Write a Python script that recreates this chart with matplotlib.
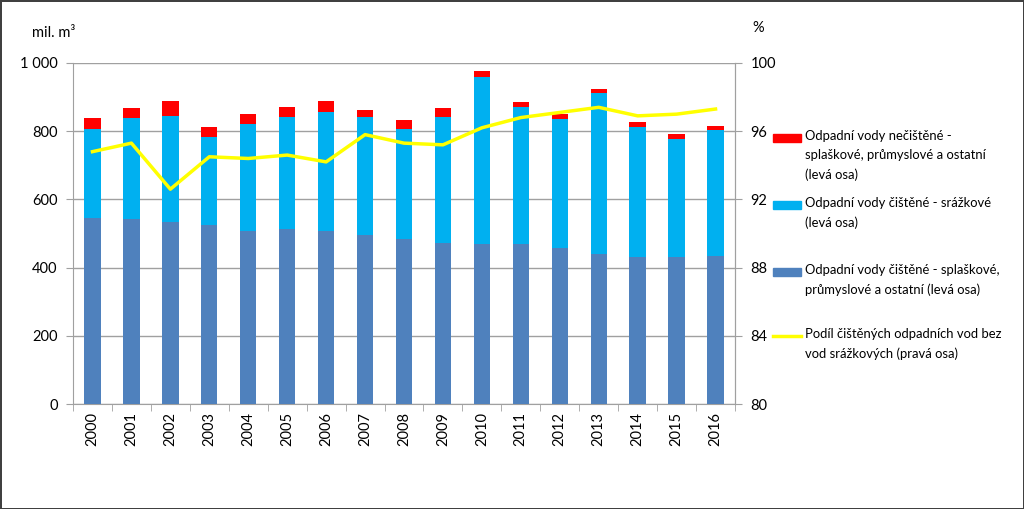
import matplotlib
matplotlib.use("Agg")
import matplotlib.pyplot as plt
from matplotlib.patches import Rectangle
from matplotlib.lines import Line2D
import numpy as np

plt.rcParams['font.family'] = ['Lato', 'DejaVu Sans']

years = [str(y) for y in range(2000, 2017)]
treated_sewage = [546, 543, 534, 525, 508, 512, 508, 497, 484, 471, 469, 469, 457, 441, 431, 431, 434]
treated_total = [807, 840, 845, 783, 822, 842, 856, 842, 807, 842, 958, 871, 836, 911, 811, 778, 803]
grand_total = [839, 869, 889, 813, 850, 871, 889, 862, 832, 867, 977, 887, 850, 924, 826, 792, 815]
share_pct = [94.8, 95.3, 92.6, 94.5, 94.4, 94.6, 94.2, 95.8, 95.3, 95.2, 96.2, 96.8, 97.1, 97.4, 96.9, 97.0, 97.3]

rain = [t - s for t, s in zip(treated_total, treated_sewage)]
untreated = [g - t for g, t in zip(grand_total, treated_total)]

labels = [
    "Odpadní vody nečištěné -\nsplaškové, průmyslové a ostatní\n(levá osa)",
    "Odpadní vody čištěné - srážkové\n(levá osa)",
    "Odpadní vody čištěné - splaškové,\nprůmyslové a ostatní (levá osa)",
    "Podíl čištěných odpadních vod bez\nvod srážkových (pravá osa)",
]
c_dark = "#4F81BD"
c_light = "#00B0F0"
c_red = "#FF0000"
c_yellow = "#FFFF00"

fig = plt.figure(figsize=(10.24, 5.09), dpi=100)
fig.patch.set_edgecolor("#404040")
fig.patch.set_linewidth(2)
W, H = 1024, 509
ax = fig.add_axes([73 / W, 1 - 404 / H, (735 - 73) / W, (404 - 63) / H])
x = np.arange(len(years))
bw = 0.42
ax.bar(x, treated_sewage, bw, color=c_dark, zorder=3)
ax.bar(x, rain, bw, bottom=treated_sewage, color=c_light, zorder=3)
ax.bar(x, untreated, bw, bottom=treated_total, color=c_red, zorder=3)
ax.set_xlim(-0.5, len(years) - 0.5)
ax.set_ylim(0, 1000)
ax.set_yticks(range(0, 1001, 200))
ax.set_yticklabels(["0", "200", "400", "600", "800", "1 000"], fontsize=10.5)
ax.yaxis.grid(True, color="#A0A0A0", linewidth=1, zorder=0)
ax.set_xticks(x)
ax.set_xticklabels(years, rotation=90, fontsize=10.5)
ax.set_xticks(np.arange(-0.5, len(years)), minor=True)
ax.tick_params(axis='x', which='major', length=0, pad=6)
ax.tick_params(axis='x', which='minor', length=5, color="#A0A0A0")
ax.tick_params(axis='y', length=5, color="#A0A0A0", pad=6)
ax.spines['top'].set_visible(False)
for s in ['left', 'bottom', 'right']:
    ax.spines[s].set_color("#A0A0A0")

ax2 = ax.twinx()
ax2.plot(x, share_pct, color=c_yellow, linewidth=2.5, zorder=5)
ax2.set_ylim(80, 100)
ax2.set_yticks(range(80, 101, 4))
ax2.tick_params(axis='y', length=5, color="#A0A0A0", labelsize=10.5, pad=6)
for s in ['top', 'left', 'bottom']:
    ax2.spines[s].set_visible(False)
ax2.spines['right'].set_color("#A0A0A0")

fig.text(32 / W, 1 - 33 / H, "mil. m³", fontsize=10.5, va='center', ha='left')
fig.text(752 / W, 1 - 28 / H, "%", fontsize=10.5, va='center', ha='left')

# legend (manual, keys aligned with first text line)
entries = [(c_red, 'patch', 138), (c_light, 'patch', 205), (c_dark, 'patch', 272), (c_yellow, 'line', 336)]
for (col, kind, ypix), lab in zip(entries, labels):
    yf = 1 - ypix / H
    if kind == 'patch':
        fig.patches.append(Rectangle((773 / W, yf - 4 / H), 28 / W, 8 / H,
                                     transform=fig.transFigure, color=col))
    else:
        fig.lines.append(Line2D([773 / W, 801 / W], [yf, yf], transform=fig.transFigure,
                                color=col, linewidth=2.5))
    fig.text(805 / W, yf + 8 / H, lab, fontsize=9.4, va='top', ha='left', linespacing=1.68)

fig.savefig("out.png", dpi=100)
